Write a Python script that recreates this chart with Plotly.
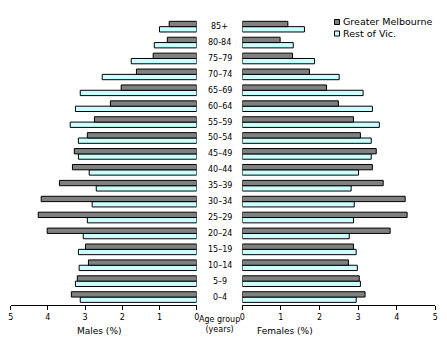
import plotly.graph_objects as go

age_groups = ["0-4", "5-9", "10-14", "15-19", "20-24", "25-29", "30-34", "35-39",
              "40-44", "45-49", "50-54", "55-59", "60-64", "65-69", "70-74", "75-79",
              "80-84", "85+"]
age_labels = ["0–4", "5–9", "10–14", "15–19", "20–24", "25–29", "30–34", "35–39",
              "40–44", "45–49", "50–54", "55–59", "60–64", "65–69", "70–74", "75–79",
              "80-84", "85+"]

males_melb = [3.37, 3.21, 2.91, 2.99, 4.02, 4.26, 4.18, 3.69, 3.34, 3.29, 2.94, 2.75,
              2.32, 2.03, 1.62, 1.17, 0.79, 0.74]
males_rest = [3.13, 3.26, 3.16, 3.18, 3.05, 2.94, 2.81, 2.70, 2.89, 3.18, 3.18, 3.40,
              3.26, 3.13, 2.54, 1.76, 1.14, 1.00]
females_melb = [3.18, 3.03, 2.75, 2.88, 3.83, 4.27, 4.22, 3.65, 3.37, 3.47, 3.06, 2.88,
                2.49, 2.18, 1.74, 1.30, 0.98, 1.18]
females_rest = [2.95, 3.06, 2.98, 2.95, 2.77, 2.88, 2.90, 2.82, 3.01, 3.34, 3.34, 3.55,
                3.37, 3.13, 2.51, 1.87, 1.32, 1.61]

series_names = ["Greater Melbourne", "Rest of Vic."]
x_ticks = [0, 1, 2, 3, 4, 5]

DARK = "#808080"
LIGHT = "#ccffff"
FONT = "DejaVu Sans"
W, H = 447.0, 361.0

fig = go.Figure()
line = dict(color="black", width=1)
# light trace first so the dark (Greater Melbourne) bar sits on top in each group
fig.add_trace(go.Bar(y=age_groups, x=males_rest, orientation="h", name=series_names[1],
                     marker=dict(color=LIGHT, line=line), xaxis="x", yaxis="y",
                     showlegend=False))
fig.add_trace(go.Bar(y=age_groups, x=males_melb, orientation="h", name=series_names[0],
                     marker=dict(color=DARK, line=line), xaxis="x", yaxis="y",
                     showlegend=False))
fig.add_trace(go.Bar(y=age_groups, x=females_rest, orientation="h", name=series_names[1],
                     marker=dict(color=LIGHT, line=line), xaxis="x2", yaxis="y2",
                     showlegend=False))
fig.add_trace(go.Bar(y=age_groups, x=females_melb, orientation="h", name=series_names[0],
                     marker=dict(color=DARK, line=line), xaxis="x2", yaxis="y2",
                     showlegend=False))

xcommon = dict(tickvals=x_ticks, ticktext=[str(v) for v in x_ticks], showline=True,
               linecolor="black", linewidth=1, ticks="outside", ticklen=4,
               tickcolor="black", showgrid=False, zeroline=False,
               tickfont=dict(family=FONT, size=8, color="black"), fixedrange=True)
ycommon = dict(type="category", categoryorder="array", categoryarray=age_groups,
               showticklabels=False, ticks="", showline=False, showgrid=False,
               zeroline=False, fixedrange=True,
               domain=[1 - 305 / H, 1 - 18.7 / H])

fig.update_layout(
    width=447, height=361,
    template="none",
    paper_bgcolor="white", plot_bgcolor="white",
    margin=dict(l=0, r=0, t=0, b=0, pad=0),
    barmode="group", bargap=0.33, bargroupgap=0,
    font=dict(family=FONT, size=9, color="black"),
    xaxis=dict(range=[5, 0], domain=[10.7 / W, 196.7 / W], anchor="y", **xcommon),
    xaxis2=dict(range=[0, 5], domain=[242.3 / W, 435.3 / W], anchor="y2", **xcommon),
    yaxis=dict(anchor="x", **ycommon),
    yaxis2=dict(anchor="x2", matches="y", **ycommon),
    showlegend=False,
)

# age-group labels in the centre gap
for cat, lab in zip(age_groups, age_labels):
    fig.add_annotation(x=219.5 / W, xref="paper", y=cat, yref="y", text=lab,
                       showarrow=False, xanchor="center", yanchor="middle",
                       font=dict(family=FONT, size=8))

# axis titles
fig.add_annotation(x=75 / W, y=1 - 338 / H, xref="paper", yref="paper",
                   text="Males (%)", showarrow=False, font=dict(family=FONT, size=9))
fig.add_annotation(x=315 / W, y=1 - 338 / H, xref="paper", yref="paper",
                   text="Females (%)", showarrow=False, font=dict(family=FONT, size=9))
fig.add_annotation(x=219.5 / W, y=1 - 335 / H, xref="paper", yref="paper",
                   text="Age group<br>(years)", showarrow=False, borderpad=0,
                   font=dict(family=FONT, size=8))

# legend (compact, as in the original)
legend_colors = [DARK, LIGHT]
legend_rows = [22.0, 33.5]
for name, col, yy in zip(series_names, legend_colors, legend_rows):
    fig.add_shape(type="rect", xref="paper", yref="paper",
                  x0=334.5 / W, x1=339.5 / W, y0=1 - (yy + 2.5) / H, y1=1 - (yy - 2.5) / H,
                  fillcolor=col, line=dict(color="black", width=1))
    fig.add_annotation(x=341 / W, y=1 - yy / H, xref="paper", yref="paper",
                       text=name, showarrow=False, xanchor="left", yanchor="middle",
                       font=dict(family=FONT, size=9.5))

fig.write_html("out.html", config={"displayModeBar": False, "staticPlot": True},
               post_script="document.body.style.margin='0';document.body.style.overflow='hidden';")
